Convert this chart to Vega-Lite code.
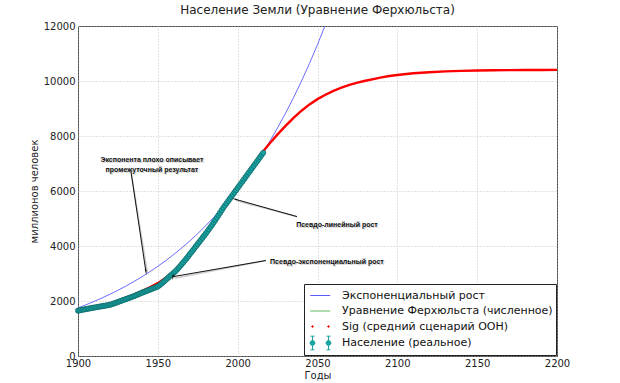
{
  "$schema": "https://vega.github.io/schema/vega-lite/v6.json",
  "width": 479,
  "height": 330,
  "autosize": {"type": "none"},
  "padding": {"left": 78, "top": 26, "right": 63, "bottom": 27},
  "background": "white",
  "config": {
    "font": "DejaVu Sans",
    "view": {"stroke": "#444", "strokeWidth": 1},
    "axis": {
      "labelFont": "DejaVu Sans", "labelFontSize": 10, "labelColor": "#222",
      "titleFont": "DejaVu Sans", "titleFontSize": 10, "titleFontWeight": "normal", "titleColor": "#222",
      "grid": true, "gridColor": "#b5b5b5", "gridDash": [1, 2], "gridWidth": 0.8,
      "domain": false, "ticks": false, "labelPadding": 3, "labelFlush": false, "labelOverlap": false
    }
  },
  "title": {"text": "Население Земли (Уравнение Ферхюльста)", "fontSize": 12, "fontWeight": "normal", "color": "#222", "font": "DejaVu Sans", "offset": 4},
  "datasets": {
    "exp": [
      {"year": 1900, "value": 1750}, {"year": 1905, "value": 1862}, {"year": 1910, "value": 1982}, {"year": 1915, "value": 2109},
      {"year": 1920, "value": 2245}, {"year": 1925, "value": 2389}, {"year": 1930, "value": 2542}, {"year": 1935, "value": 2706},
      {"year": 1940, "value": 2879}, {"year": 1945, "value": 3064}, {"year": 1950, "value": 3261}, {"year": 1955, "value": 3471},
      {"year": 1960, "value": 3694}, {"year": 1965, "value": 3931}, {"year": 1970, "value": 4183}, {"year": 1975, "value": 4452},
      {"year": 1980, "value": 4738}, {"year": 1985, "value": 5042}, {"year": 1990, "value": 5366}, {"year": 1995, "value": 5711},
      {"year": 2000, "value": 6078}, {"year": 2005, "value": 6468}, {"year": 2010, "value": 6883}, {"year": 2015, "value": 7325},
      {"year": 2020, "value": 7796}, {"year": 2025, "value": 8297}, {"year": 2030, "value": 8829}, {"year": 2035, "value": 9397},
      {"year": 2040, "value": 10000}, {"year": 2045, "value": 10642}, {"year": 2050, "value": 11326}, {"year": 2055, "value": 12053},
      {"year": 2060, "value": 12827}
    ],
    "sig": [
      {"year": 1900, "value": 1650}, {"year": 1905, "value": 1700}, {"year": 1910, "value": 1760}, {"year": 1915, "value": 1830},
      {"year": 1920, "value": 1910}, {"year": 1925, "value": 2000}, {"year": 1930, "value": 2100}, {"year": 1935, "value": 2220},
      {"year": 1940, "value": 2360}, {"year": 1945, "value": 2500}, {"year": 1950, "value": 2650}, {"year": 1955, "value": 2850},
      {"year": 1960, "value": 3060}, {"year": 1965, "value": 3320}, {"year": 1970, "value": 3650}, {"year": 1975, "value": 4010},
      {"year": 1980, "value": 4410}, {"year": 1985, "value": 4830}, {"year": 1990, "value": 5260}, {"year": 1995, "value": 5690},
      {"year": 2000, "value": 6110}, {"year": 2005, "value": 6530}, {"year": 2010, "value": 6950}, {"year": 2015, "value": 7370},
      {"year": 2020, "value": 7730}, {"year": 2025, "value": 8060}, {"year": 2030, "value": 8370}, {"year": 2035, "value": 8660},
      {"year": 2040, "value": 8920}, {"year": 2045, "value": 9150}, {"year": 2050, "value": 9340}, {"year": 2055, "value": 9500},
      {"year": 2060, "value": 9640}, {"year": 2065, "value": 9760}, {"year": 2070, "value": 9860}, {"year": 2075, "value": 9940},
      {"year": 2080, "value": 10010}, {"year": 2085, "value": 10070}, {"year": 2090, "value": 10130}, {"year": 2095, "value": 10180},
      {"year": 2100, "value": 10220}, {"year": 2110, "value": 10280}, {"year": 2120, "value": 10320}, {"year": 2130, "value": 10350},
      {"year": 2140, "value": 10370}, {"year": 2150, "value": 10380}, {"year": 2160, "value": 10390}, {"year": 2170, "value": 10395},
      {"year": 2180, "value": 10400}, {"year": 2190, "value": 10402}, {"year": 2200, "value": 10404}
    ],
    "pop": [
      {"year": 1900, "value": 1650}, {"year": 1901, "value": 1661}, {"year": 1902, "value": 1672}, {"year": 1903, "value": 1683},
      {"year": 1904, "value": 1694}, {"year": 1905, "value": 1705}, {"year": 1906, "value": 1716}, {"year": 1907, "value": 1727},
      {"year": 1908, "value": 1738}, {"year": 1909, "value": 1749}, {"year": 1910, "value": 1760}, {"year": 1911, "value": 1770},
      {"year": 1912, "value": 1780}, {"year": 1913, "value": 1790}, {"year": 1914, "value": 1800}, {"year": 1915, "value": 1810},
      {"year": 1916, "value": 1820}, {"year": 1917, "value": 1830}, {"year": 1918, "value": 1840}, {"year": 1919, "value": 1851},
      {"year": 1920, "value": 1862}, {"year": 1921, "value": 1881}, {"year": 1922, "value": 1900}, {"year": 1923, "value": 1921},
      {"year": 1924, "value": 1942}, {"year": 1925, "value": 1963}, {"year": 1926, "value": 1985}, {"year": 1927, "value": 2006},
      {"year": 1928, "value": 2028}, {"year": 1929, "value": 2049}, {"year": 1930, "value": 2070}, {"year": 1931, "value": 2091},
      {"year": 1932, "value": 2112}, {"year": 1933, "value": 2133}, {"year": 1934, "value": 2155}, {"year": 1935, "value": 2177},
      {"year": 1936, "value": 2200}, {"year": 1937, "value": 2225}, {"year": 1938, "value": 2250}, {"year": 1939, "value": 2275},
      {"year": 1940, "value": 2300}, {"year": 1941, "value": 2322}, {"year": 1942, "value": 2345}, {"year": 1943, "value": 2367},
      {"year": 1944, "value": 2390}, {"year": 1945, "value": 2412}, {"year": 1946, "value": 2435}, {"year": 1947, "value": 2457},
      {"year": 1948, "value": 2480}, {"year": 1949, "value": 2502}, {"year": 1950, "value": 2525}, {"year": 1951, "value": 2570},
      {"year": 1952, "value": 2617}, {"year": 1953, "value": 2665}, {"year": 1954, "value": 2716}, {"year": 1955, "value": 2770},
      {"year": 1956, "value": 2822}, {"year": 1957, "value": 2875}, {"year": 1958, "value": 2930}, {"year": 1959, "value": 2975},
      {"year": 1960, "value": 3030}, {"year": 1961, "value": 3080}, {"year": 1962, "value": 3140}, {"year": 1963, "value": 3205},
      {"year": 1964, "value": 3270}, {"year": 1965, "value": 3340}, {"year": 1966, "value": 3410}, {"year": 1967, "value": 3480},
      {"year": 1968, "value": 3550}, {"year": 1969, "value": 3625}, {"year": 1970, "value": 3700}, {"year": 1971, "value": 3775},
      {"year": 1972, "value": 3850}, {"year": 1973, "value": 3925}, {"year": 1974, "value": 4000}, {"year": 1975, "value": 4075},
      {"year": 1976, "value": 4150}, {"year": 1977, "value": 4225}, {"year": 1978, "value": 4300}, {"year": 1979, "value": 4375},
      {"year": 1980, "value": 4450}, {"year": 1981, "value": 4530}, {"year": 1982, "value": 4610}, {"year": 1983, "value": 4690},
      {"year": 1984, "value": 4770}, {"year": 1985, "value": 4855}, {"year": 1986, "value": 4940}, {"year": 1987, "value": 5030},
      {"year": 1988, "value": 5120}, {"year": 1989, "value": 5210}, {"year": 1990, "value": 5300}, {"year": 1991, "value": 5390},
      {"year": 1992, "value": 5470}, {"year": 1993, "value": 5550}, {"year": 1994, "value": 5630}, {"year": 1995, "value": 5710},
      {"year": 1996, "value": 5790}, {"year": 1997, "value": 5870}, {"year": 1998, "value": 5950}, {"year": 1999, "value": 6030},
      {"year": 2000, "value": 6110}, {"year": 2001, "value": 6190}, {"year": 2002, "value": 6270}, {"year": 2003, "value": 6350},
      {"year": 2004, "value": 6430}, {"year": 2005, "value": 6510}, {"year": 2006, "value": 6590}, {"year": 2007, "value": 6670},
      {"year": 2008, "value": 6750}, {"year": 2009, "value": 6830}, {"year": 2010, "value": 6910}, {"year": 2011, "value": 6990},
      {"year": 2012, "value": 7070}, {"year": 2013, "value": 7150}, {"year": 2014, "value": 7230}, {"year": 2015, "value": 7310},
      {"year": 2016, "value": 7390}
    ],
    "notes": [
      {"year": 1946.3, "value": 7140, "label": "Экспонента плохо описывает\nпромежуточный результат"},
      {"year": 2062.2, "value": 4779, "label": "Псевдо-линейный рост"},
      {"year": 2055.9, "value": 3436, "label": "Псевдо-экспоненциальный рост"}
    ],
    "arrows": [
      {"id": 1, "year": 1942.5, "value": 3080, "year2": 1933.2, "value2": 6700},
      {"id": 2, "year": 1998.5, "value": 5700, "year2": 2037.1, "value2": 5069},
      {"id": 3, "year": 1959.5, "value": 2885, "year2": 2017.7, "value2": 3472}
    ]
  },
  "encoding": {
    "x": {"field": "year", "type": "quantitative",
      "scale": {"domain": [1900, 2200], "nice": false, "zero": false},
      "axis": {"title": "Годы", "values": [1900, 1950, 2000, 2050, 2100, 2150, 2200], "format": "d", "labelPadding": 2, "titlePadding": 2}},
    "y": {"field": "value", "type": "quantitative",
      "scale": {"domain": [0, 12000], "nice": false},
      "axis": {"title": "миллионов человек", "values": [0, 2000, 4000, 6000, 8000, 10000, 12000], "format": "d", "labelPadding": 3, "titlePadding": 4}}
  },
  "layer": [
    {
      "data": {"name": "exp"},
      "mark": {"type": "line", "strokeWidth": 0.9, "clip": true},
      "encoding": {
        "color": {
          "datum": "Экспоненциальный рост", "type": "nominal",
          "scale": {
            "domain": ["Экспоненциальный рост", "Уравнение Ферхюльста (численное)", "Sig (средний сценарий ООН)", "Население (реальное)"],
            "range": ["#5a5aff", "#5cb85c", "#ff0000", "#19a3a3"]
          },
          "legend": {
            "orient": "none", "legendX": 226, "legendY": 258, "title": null, "direction": "vertical",
            "strokeColor": "#222", "fillColor": "white", "padding": 3,
            "labelFont": "DejaVu Sans", "labelFontSize": 11, "labelColor": "#111", "labelLimit": 300,
            "symbolSize": 256, "symbolStrokeWidth": 1, "labelOffset": 18, "rowPadding": 1.5,
            "encode": {"symbols": {"update": {
              "shape": {"signal": "(datum.value === 'Экспоненциальный рост' || datum.value === 'Уравнение Ферхюльста (численное)') ? 'M-0.65,0H1.85' : (datum.value === 'Sig (средний сценарий ООН)' ? 'M-0.475,0a0.1,0.1 0 1,0 0.2,0a0.1,0.1 0 1,0 -0.2,0ZM1.525,0a0.1,0.1 0 1,0 0.2,0a0.1,0.1 0 1,0 -0.2,0Z' : 'M-0.375,-0.85V0.85M-0.625,-0.85H-0.125M-0.625,0.85H-0.125M1.625,-0.85V0.85M1.375,-0.85H1.875M1.375,0.85H1.875M-0.675,0a0.3,0.3 0 1,0 0.6,0a0.3,0.3 0 1,0 -0.6,0ZM1.325,0a0.3,0.3 0 1,0 0.6,0a0.3,0.3 0 1,0 -0.6,0Z')"},
              "fill": {"signal": "scale('color', datum.value)"},
              "stroke": {"signal": "scale('color', datum.value)"},
              "opacity": {"value": 1},
              "strokeWidth": {"value": 1},
              "size": {"value": 256}
            }}}
          }
        }
      }
    },
    {
      "data": {"name": "sig"},
      "mark": {"type": "line", "strokeWidth": 2.4},
      "encoding": {"color": {"datum": "Sig (средний сценарий ООН)", "type": "nominal"}}
    },
    {
      "data": {"name": "pop"},
      "mark": {"type": "point", "filled": true, "shape": "circle", "size": 28, "opacity": 1, "stroke": "#0c5c5c", "strokeWidth": 0.6},
      "encoding": {"color": {"datum": "Население (реальное)", "type": "nominal"}}
    },
    {
      "data": {"name": "arrows"},
      "mark": {"type": "rule", "color": "#999", "opacity": 0.5, "strokeWidth": 1.6, "xOffset": 1.5, "yOffset": 1.5},
      "encoding": {"x2": {"field": "year2"}, "y2": {"field": "value2"}}
    },
    {
      "data": {"name": "arrows"},
      "mark": {"type": "rule", "color": "#111", "strokeWidth": 1},
      "encoding": {"x2": {"field": "year2"}, "y2": {"field": "value2"}}
    },
    {
      "data": {"name": "arrows"},
      "transform": [{"filter": "datum.id == 1"}],
      "mark": {"type": "point", "shape": "wedge", "filled": true, "color": "#111", "size": 45, "angle": 171.5, "opacity": 1}
    },
    {
      "data": {"name": "arrows"},
      "transform": [{"filter": "datum.id == 2"}],
      "mark": {"type": "point", "shape": "wedge", "filled": true, "color": "#111", "size": 45, "angle": 286, "opacity": 1}
    },
    {
      "data": {"name": "arrows"},
      "transform": [{"filter": "datum.id == 3"}],
      "mark": {"type": "point", "shape": "wedge", "filled": true, "color": "#111", "size": 45, "angle": 189.7, "opacity": 1}
    },
    {
      "data": {"name": "notes"},
      "mark": {"type": "text", "font": "Liberation Sans", "fontWeight": "bold", "fontSize": 7, "lineBreak": "\n", "lineHeight": 10, "align": "center", "baseline": "middle", "color": "#999", "opacity": 0.45, "dx": 1.2, "dy": 1.2},
      "encoding": {"text": {"field": "label"}}
    },
    {
      "data": {"name": "notes"},
      "mark": {"type": "text", "font": "Liberation Sans", "fontWeight": "bold", "fontSize": 7, "lineBreak": "\n", "lineHeight": 10, "align": "center", "baseline": "middle", "color": "#111"},
      "encoding": {"text": {"field": "label"}}
    }
  ]
}
